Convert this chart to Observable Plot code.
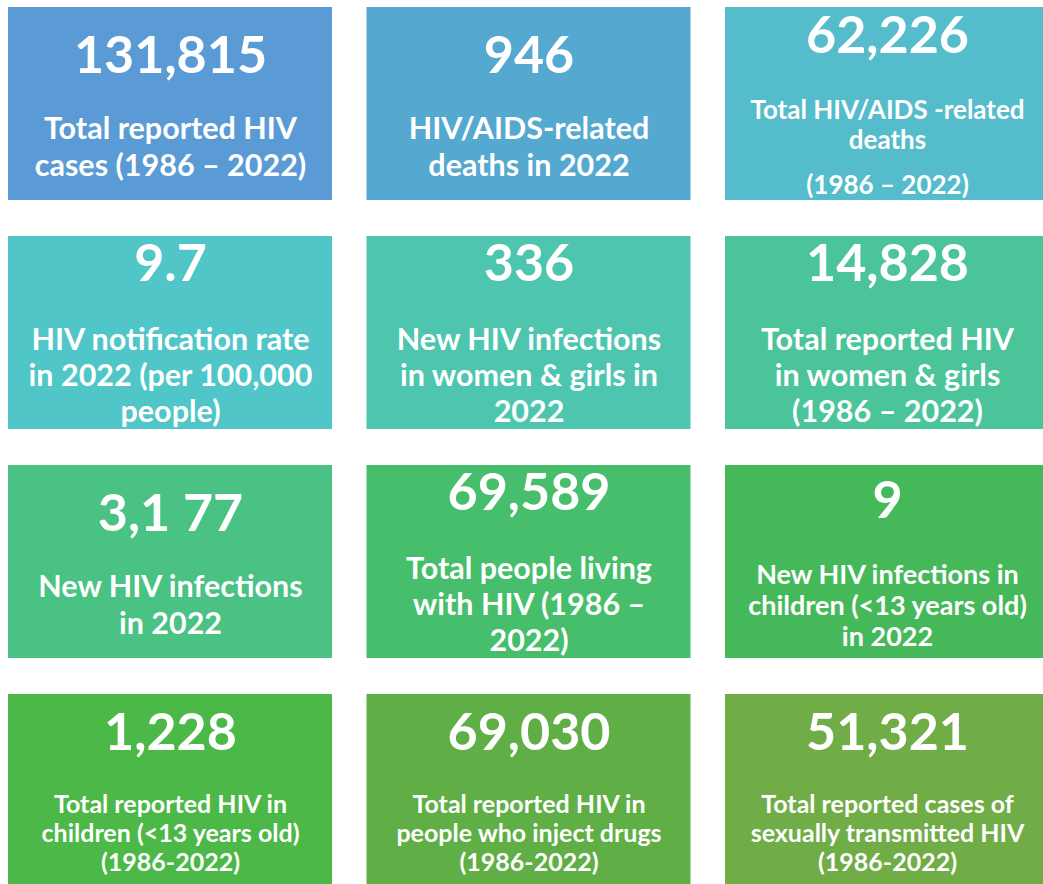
<!DOCTYPE html>
<html>
<head>
<meta charset="utf-8">
<script src="https://cdn.jsdelivr.net/npm/d3@7"></script>
<script src="https://cdn.jsdelivr.net/npm/@observablehq/plot@0.6"></script>
<style>
  html, body { margin: 0; padding: 0; background: #ffffff; }
  #chart svg { display: block; }
</style>
</head>
<body>
<div id="chart"></div>
<script>
// ---- Data ----
const values = ["131,815", "946", "62,226", "9.7", "336", "14,828", "3,1 77", "69,589", "9", "1,228", "69,030", "51,321"];
const labels = [
  "Total reported HIV\ncases (1986 – 2022)",
  "HIV/AIDS-related\ndeaths in 2022",
  "Total HIV/AIDS -related\ndeaths\n(1986 – 2022)",
  "HIV notification rate\nin 2022 (per 100,000\npeople)",
  "New HIV infections\nin women & girls in\n2022",
  "Total reported HIV\nin women & girls\n(1986 – 2022)",
  "New HIV infections\nin 2022",
  "Total people living\nwith HIV (1986 –\n2022)",
  "New HIV infections in\nchildren (<13 years old)\nin 2022",
  "Total reported HIV in\nchildren (<13 years old)\n(1986-2022)",
  "Total reported HIV in\npeople who inject drugs\n(1986-2022)",
  "Total reported cases of\nsexually transmitted HIV\n(1986-2022)"
];
const tileColors = ["#5b9bd5", "#55a8cf", "#55bccb", "#50c6c8", "#4ec6af", "#4bc499", "#49c283", "#46be6b", "#45b95a", "#4cb848", "#5faf46", "#70ad47"];

// ---- Layout (pixels, converted to scale units) ----
const colStep = 358.5, rowStep = 229, tileW = 324, tileH = 193;
const px = (v) => v / colStep, py = (v) => v / rowStep;
// per-tile text layout: number baseline, label baselines (from tile top), label font size
function layout(i) {
  if (i === 0 || i === 1 || i === 6) return {num: 65, lines: [131, 168], fs: 30.5};
  if (i === 2) return {num: 45, lines: [111, 141, 186], fs: 26};
  if (i === 8) return {num: 52, lines: [118, 149, 180], fs: 27};
  if (i >= 9) return {num: 55, lines: [118, 147, 176], fs: 25};
  return {num: 44, lines: [113, 149, 185], fs: 30.5};
}

const tiles = values.map((v, i) => ({i, col: i % 3, row: Math.floor(i / 3), value: v}));
const lineRows = labels.flatMap((lab, i) =>
  lab.split("\n").map((t, k) => ({i, col: i % 3, row: Math.floor(i / 3), k, text: t}))
);

const chart = Plot.plot({
  width: 1043,
  height: 884,
  margin: 0,
  x: {domain: [0, 3], range: [8, 8 + 3 * colStep], axis: null},
  y: {domain: [0, 4], range: [7, 7 + 4 * rowStep], axis: null},
  color: {type: "ordinal", domain: d3.range(12), range: tileColors},
  style: {background: "#ffffff"},
  marks: [
    Plot.rect(tiles, {
      x1: (d) => d.col,
      x2: (d) => d.col + px(tileW),
      y1: (d) => d.row,
      y2: (d) => d.row + py(tileH),
      fill: (d) => d.i
    }),
    Plot.text(tiles, {
      x: (d) => d.col + px(tileW / 2),
      y: (d) => d.row + py(layout(d.i).num),
      text: "value",
      fill: "white",
      fontSize: 52,
      fontWeight: "bold",
      fontFamily: "Lato",
      lineAnchor: "bottom"
    }),
    Plot.text(lineRows, {
      x: (d) => d.col + px(tileW / 2),
      y: (d) => d.row + py(layout(d.i).lines[d.k]),
      text: "text",
      fill: "white",
      fontSize: (d) => layout(d.i).fs,
      fontWeight: "bold",
      fontFamily: "Lato",
      lineAnchor: "bottom"
    })
  ]
});
document.getElementById("chart").appendChild(chart);
</script>
</body>
</html>
